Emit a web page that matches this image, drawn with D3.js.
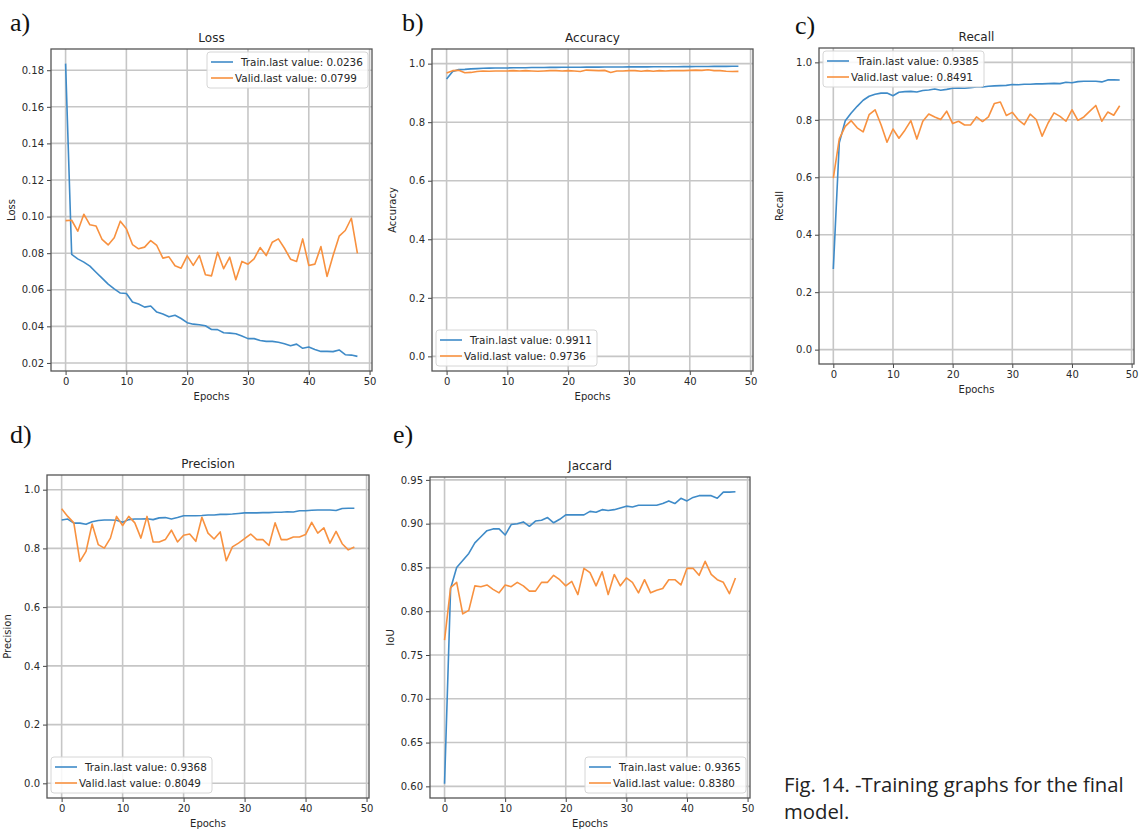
<!DOCTYPE html>
<html>
<head>
<meta charset="utf-8">
<script src="https://cdn.jsdelivr.net/npm/d3@7/dist/d3.min.js"></script>
<style>
  html, body { margin: 0; padding: 0; background: #ffffff; }
  svg { display: block; }
  svg text { fill: #262626; }
</style>
</head>
<body>
<svg id="chart" width="1139" height="830"></svg>
<script>
// ---------------- DATA ----------------
const epochs = d3.range(0, 49);
const xTicks = [0, 10, 20, 30, 40, 50];

const lossTrain = [0.1836,0.0793,0.0769,0.0751,0.0729,0.0696,0.0664,0.0631,0.0605,0.0582,
  0.0580,0.0533,0.0522,0.0505,0.0511,0.0478,0.0467,0.0452,0.0461,0.0443,
  0.0420,0.0412,0.0409,0.0403,0.0383,0.0382,0.0365,0.0363,0.0360,0.0347,
  0.0333,0.0333,0.0323,0.0318,0.0318,0.0313,0.0305,0.0294,0.0303,0.0280,
  0.0287,0.0274,0.0263,0.0263,0.0262,0.0271,0.0245,0.0243,0.0236];
const lossValid = [0.0978,0.0980,0.0920,0.1013,0.0955,0.0949,0.0875,0.0845,0.0884,0.0975,
  0.0933,0.0847,0.0824,0.0833,0.0869,0.0842,0.0773,0.0780,0.0731,0.0718,
  0.0785,0.0733,0.0787,0.0682,0.0676,0.0805,0.0715,0.0778,0.0655,0.0755,
  0.0740,0.0769,0.0831,0.0787,0.0860,0.0878,0.0827,0.0767,0.0755,0.0878,
  0.0733,0.0740,0.0836,0.0673,0.0787,0.0893,0.0924,0.0991,0.0799];
const lossTicks = [0.02,0.04,0.06,0.08,0.10,0.12,0.14,0.16,0.18];

const accTrain = [0.9476,0.9730,0.9795,0.9805,0.9820,0.9830,0.9840,0.9848,0.9850,0.9852,
  0.9853,0.9858,0.9860,0.9862,0.9866,0.9868,0.9869,0.9872,0.9873,0.9874,
  0.9876,0.9877,0.9878,0.9880,0.9881,0.9882,0.9884,0.9885,0.9886,0.9887,
  0.9888,0.9889,0.9890,0.9891,0.9892,0.9893,0.9894,0.9895,0.9896,0.9898,
  0.9899,0.9900,0.9902,0.9903,0.9905,0.9906,0.9908,0.9910,0.9911];
const accValid = [0.968,0.976,0.977,0.969,0.970,0.973,0.975,0.974,0.975,0.975,
  0.975,0.976,0.975,0.976,0.975,0.974,0.975,0.976,0.976,0.975,
  0.976,0.975,0.973,0.978,0.977,0.976,0.977,0.970,0.975,0.975,
  0.976,0.976,0.974,0.976,0.974,0.976,0.975,0.976,0.976,0.976,
  0.977,0.978,0.977,0.979,0.976,0.976,0.974,0.973,0.9736];
const unitTicks = [0.0,0.2,0.4,0.6,0.8,1.0];

const recallTrain = [0.281,0.720,0.797,0.824,0.847,0.868,0.882,0.889,0.893,0.893,
  0.884,0.896,0.898,0.899,0.897,0.902,0.904,0.907,0.903,0.906,
  0.910,0.911,0.910,0.912,0.914,0.914,0.917,0.918,0.919,0.920,
  0.923,0.922,0.924,0.924,0.925,0.925,0.926,0.927,0.926,0.931,
  0.929,0.933,0.934,0.934,0.934,0.932,0.939,0.939,0.9385];
const recallValid = [0.597,0.734,0.777,0.797,0.772,0.758,0.818,0.835,0.783,0.722,
  0.768,0.736,0.764,0.797,0.733,0.795,0.820,0.810,0.801,0.830,
  0.787,0.795,0.782,0.782,0.810,0.794,0.810,0.857,0.862,0.815,
  0.826,0.800,0.783,0.820,0.801,0.743,0.789,0.824,0.812,0.795,
  0.835,0.798,0.810,0.830,0.850,0.795,0.827,0.816,0.8491];

const precTrain = [0.897,0.900,0.886,0.886,0.882,0.891,0.895,0.897,0.897,0.896,
  0.889,0.898,0.900,0.900,0.901,0.898,0.904,0.905,0.900,0.905,
  0.911,0.911,0.911,0.912,0.914,0.914,0.916,0.916,0.917,0.919,
  0.921,0.921,0.921,0.922,0.922,0.923,0.923,0.925,0.924,0.928,
  0.928,0.930,0.931,0.931,0.931,0.929,0.936,0.937,0.9368];
const precValid = [0.935,0.909,0.887,0.756,0.790,0.883,0.813,0.801,0.835,0.909,
  0.878,0.909,0.887,0.835,0.909,0.822,0.822,0.830,0.862,0.822,
  0.845,0.849,0.824,0.906,0.852,0.832,0.856,0.758,0.805,0.818,
  0.833,0.849,0.830,0.830,0.810,0.887,0.830,0.830,0.839,0.839,
  0.847,0.889,0.852,0.870,0.818,0.858,0.816,0.795,0.8049];

const jacTrain = [0.603,0.826,0.850,0.858,0.866,0.878,0.885,0.892,0.894,0.894,
  0.887,0.899,0.900,0.902,0.897,0.903,0.904,0.907,0.901,0.905,
  0.910,0.910,0.910,0.910,0.914,0.913,0.916,0.915,0.916,0.918,
  0.920,0.919,0.921,0.921,0.921,0.921,0.923,0.926,0.923,0.929,
  0.926,0.930,0.932,0.932,0.932,0.929,0.936,0.936,0.9365];
const jacValid = [0.767,0.827,0.833,0.797,0.801,0.829,0.828,0.830,0.825,0.821,
  0.830,0.828,0.833,0.829,0.823,0.823,0.833,0.833,0.841,0.836,
  0.829,0.834,0.819,0.849,0.844,0.829,0.845,0.819,0.842,0.829,
  0.838,0.833,0.821,0.836,0.821,0.824,0.826,0.836,0.836,0.830,
  0.849,0.849,0.841,0.857,0.842,0.836,0.833,0.820,0.838];
const jacTicks = [0.60,0.65,0.70,0.75,0.80,0.85,0.90,0.95];

const panelLetters = ["a)","b)","c)","d)","e)"];
const panelTitles = ["Loss","Accuracy","Recall","Precision","Jaccard"];
const yLabels = ["Loss","Accuracy","Recall","Precision","IoU"];
const trainLabels = ["Train.last value: 0.0236","Train.last value: 0.9911","Train.last value: 0.9385","Train.last value: 0.9368","Train.last value: 0.9365"];
const validLabels = ["Valid.last value: 0.0799","Valid.last value: 0.9736","Valid.last value: 0.8491","Valid.last value: 0.8049","Valid.last value: 0.8380"];
const captionLines = ["Fig. 14. -Training graphs for the final","model."];

// ---------------- LAYOUT ----------------
const BLUE = "#3f8bc8", ORANGE = "#f8913f";
const SANS = "'DejaVu Sans', sans-serif";
const panels = [
  {frame:[51,372,49,371],   yDom:[0.0156,0.1916], yTicks:lossTicks, fmt:d3.format(".2f"), train:lossTrain, valid:lossValid, letter:[10,31], legend:"tr", cy:42},
  {frame:[432,753,49,371],  yDom:[-0.05,1.05],    yTicks:unitTicks, fmt:d3.format(".1f"), train:accTrain,  valid:accValid,  letter:[402,31], legend:"bl", cy:42},
  {frame:[819,1134,48,364], yDom:[-0.05,1.05],    yTicks:unitTicks, fmt:d3.format(".1f"), train:recallTrain, valid:recallValid, letter:[795,34], legend:"tl", cy:41},
  {frame:[47,369,475,798],  yDom:[-0.05,1.05],    yTicks:unitTicks, fmt:d3.format(".1f"), train:precTrain, valid:precValid, letter:[10,443], legend:"bl", cy:468},
  {frame:[430,750,477,798], yDom:[0.5867,0.9533], yTicks:jacTicks,  fmt:d3.format(".2f"), train:jacTrain,  valid:jacValid,  letter:[393,443], legend:"br", cy:470}
];

const svg = d3.select("#chart");

panels.forEach((p, i) => {
  const [L, R, T, B] = p.frame;
  const x = d3.scaleLinear().domain([-2.4, 50.4]).range([L, R]);
  const y = d3.scaleLinear().domain(p.yDom).range([B, T]);
  const g = svg.append("g");

  // grid
  g.append("g").selectAll("line").data(xTicks).join("line")
    .attr("x1", d => x(d)).attr("x2", d => x(d)).attr("y1", T).attr("y2", B)
    .attr("stroke", "#c6c6c6").attr("stroke-width", 1.6);
  g.append("g").selectAll("line").data(p.yTicks).join("line")
    .attr("x1", L).attr("x2", R).attr("y1", d => y(d)).attr("y2", d => y(d))
    .attr("stroke", "#c6c6c6").attr("stroke-width", 1.6);

  // axes
  const xa = g.append("g").attr("transform", `translate(0,${B})`)
    .call(d3.axisBottom(x).tickValues(xTicks).tickSize(4).tickPadding(3).tickFormat(d3.format("d")));
  const ya = g.append("g").attr("transform", `translate(${L},0)`)
    .call(d3.axisLeft(y).tickValues(p.yTicks).tickSize(4).tickPadding(3).tickFormat(p.fmt));
  [xa, ya].forEach(a => {
    a.select(".domain").remove();
    a.selectAll(".tick line").attr("stroke", "#444").attr("stroke-width", 1);
    a.selectAll(".tick text").attr("font-size", 10).style("fill", "#2a2a2a")
      .style("font-family", SANS);
  });

  // lines
  const line = arr => d3.line().x((d, k) => x(epochs[k])).y(d => y(d))(arr);
  g.append("path").attr("d", line(p.train)).attr("fill", "none")
    .attr("stroke", BLUE).attr("stroke-width", 1.6).attr("stroke-linejoin", "round");
  g.append("path").attr("d", line(p.valid)).attr("fill", "none")
    .attr("stroke", ORANGE).attr("stroke-width", 1.6).attr("stroke-linejoin", "round");

  // frame
  g.append("rect").attr("x", L).attr("y", T).attr("width", R - L).attr("height", B - T)
    .attr("fill", "none").attr("stroke", "#555").attr("stroke-width", 1.3);

  // titles & labels
  g.append("text").attr("x", (L + R) / 2).attr("y", p.cy).attr("text-anchor", "middle")
    .style("font-family", SANS).attr("font-size", 12).text(panelTitles[i]);
  g.append("text").attr("x", (L + R) / 2).attr("y", B + 29).attr("text-anchor", "middle")
    .style("font-family", SANS).attr("font-size", 10).text("Epochs");
  g.append("text").attr("transform", `translate(${L - 36},${(T + B) / 2}) rotate(-90)`)
    .style("font-family", SANS).attr("text-anchor", "middle").attr("font-size", 10).text(yLabels[i]);
  g.append("text").attr("x", p.letter[0]).attr("y", p.letter[1])
    .style("font-family", "'Liberation Serif', 'DejaVu Serif', serif").attr("font-size", 26)
    .style("fill", "#111").text(panelLetters[i]);

  // legend
  const bw = 161, bh = 36;
  const bx = p.legend[1] === "r" ? R - 4 - bw : L + 4;
  const by = p.legend[0] === "t" ? T + 3 : B - 5 - bh;
  const lg = g.append("g").attr("transform", `translate(${bx},${by})`);
  lg.append("rect").attr("width", bw).attr("height", bh).attr("rx", 3)
    .attr("fill", "#fff").attr("fill-opacity", 0.85).attr("stroke", "#d6d6d6").attr("stroke-width", 1);
  lg.append("line").attr("x1", 4).attr("x2", 26).attr("y1", 10).attr("y2", 10)
    .attr("stroke", BLUE).attr("stroke-width", 1.6);
  lg.append("line").attr("x1", 4).attr("x2", 26).attr("y1", 26).attr("y2", 26)
    .attr("stroke", ORANGE).attr("stroke-width", 1.6);
  lg.append("text").attr("x", 34).attr("y", 14).style("font-family", SANS).attr("font-size", 10.4).text(trainLabels[i]);
  lg.append("text").attr("x", 28).attr("y", 30).style("font-family", SANS).attr("font-size", 10.4).text(validLabels[i]);
});

// caption
svg.append("g").selectAll("text").data(captionLines).join("text")
  .attr("x", 784).attr("y", (d, k) => 792 + k * 27)
  .style("font-family", "'Open Sans', sans-serif").attr("font-size", 20.3).style("fill", "#222")
  .text(d => d);
</script>
</body>
</html>
